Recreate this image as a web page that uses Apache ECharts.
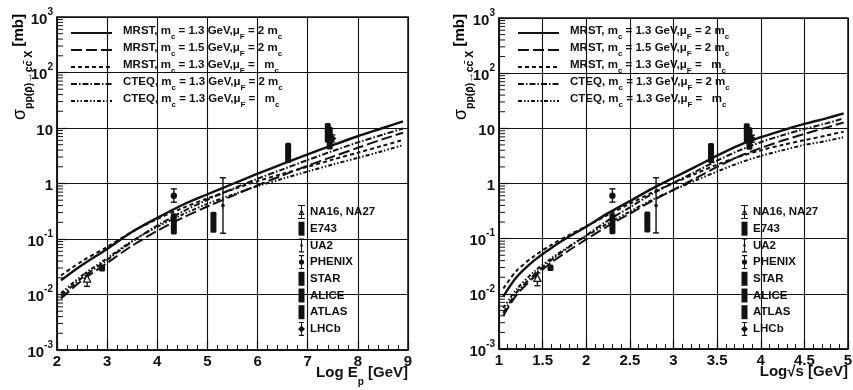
<!DOCTYPE html>
<html><head><meta charset="utf-8">
<script src="https://cdn.jsdelivr.net/npm/echarts@6/dist/echarts.min.js"></script>
<style>html,body{margin:0;padding:0;background:#fff}#c{width:853px;height:390px}</style>
</head><body><div id="c"></div>
<script>
// ---------------- data ----------------
const xTicksLeft = [2, 3, 4, 5, 6, 7, 8, 9];
const xTicksRight = [1, 1.5, 2, 2.5, 3, 3.5, 4, 4.5, 5];
const yRange = [0.001, 1000];
const yMinor = [0.002,0.003,0.004,0.005,0.006,0.007,0.008,0.009,
  0.02,0.03,0.04,0.05,0.06,0.07,0.08,0.09,
  0.2,0.3,0.4,0.5,0.6,0.7,0.8,0.9,
  2,3,4,5,6,7,8,9,
  20,30,40,50,60,70,80,90,
  200,300,400,500,600,700,800,900];

const curveNames = ['MRST13_2mc', 'MRST15_2mc', 'MRST13_mc', 'CTEQ13_2mc', 'CTEQ13_mc'];

// left panel: Log E_p
const logE = [2.08, 2.5, 3, 3.5, 4, 4.5, 5, 5.5, 6, 6.5, 7, 7.5, 8, 8.5, 8.9];
const L_mrst13_2mc = [0.018, 0.034, 0.066, 0.135, 0.24, 0.41, 0.64, 0.98, 1.5, 2.25, 3.35, 4.9, 7.1, 10.0, 13.2];
const L_mrst15_2mc = [0.0085, 0.018, 0.037, 0.076, 0.14, 0.24, 0.385, 0.6, 0.93, 1.4, 2.1, 3.05, 4.4, 6.3, 8.2];
const L_mrst13_mc  = [0.022, 0.040, 0.072, 0.135, 0.23, 0.36, 0.54, 0.78, 1.1, 1.5, 2.0, 2.7, 3.6, 4.8, 6.1];
const L_cteq_2mc   = [0.0095, 0.020, 0.042, 0.09, 0.175, 0.31, 0.51, 0.8, 1.22, 1.8, 2.65, 3.85, 5.5, 7.6, 9.8];
const L_cteq_mc    = [0.0105, 0.022, 0.045, 0.092, 0.165, 0.275, 0.43, 0.63, 0.9, 1.22, 1.65, 2.2, 2.9, 3.85, 4.9];

// right panel: Log sqrt(s)
const logS = [1.05, 1.2, 1.4, 1.6, 1.8, 2.0, 2.25, 2.5, 2.75, 3.0, 3.25, 3.5, 3.75, 4.0, 4.25, 4.5, 4.75, 4.95];
const R_mrst13_2mc = [0.0090, 0.020, 0.040, 0.068, 0.108, 0.165, 0.29, 0.48, 0.80, 1.27, 2.0, 3.2, 4.9, 6.9, 9.2, 12.0, 15.2, 18.6];
const R_mrst15_2mc = [0.0040, 0.0095, 0.020, 0.037, 0.061, 0.097, 0.17, 0.285, 0.48, 0.77, 1.24, 2.0, 3.1, 4.4, 6.0, 7.9, 10.3, 12.8];
const R_mrst13_mc  = [0.0125, 0.026, 0.048, 0.077, 0.116, 0.168, 0.27, 0.43, 0.68, 1.02, 1.5, 2.2, 3.05, 4.0, 5.0, 6.1, 7.4, 8.7];
const R_cteq_2mc   = [0.0045, 0.0105, 0.022, 0.041, 0.070, 0.115, 0.215, 0.37, 0.64, 1.03, 1.63, 2.6, 3.95, 5.6, 7.5, 9.7, 12.3, 15.1];
const R_cteq_mc    = [0.0055, 0.012, 0.025, 0.044, 0.072, 0.112, 0.19, 0.31, 0.5, 0.76, 1.13, 1.65, 2.35, 3.15, 4.0, 5.0, 5.9, 6.9];

// experiments: x (left: Log E_p, right: Log sqrt s), value, low, high
const expNames = ['NA16, NA27', 'E743', 'UA2', 'PHENIX', 'STAR', 'ALICE', 'ATLAS', 'LHCb'];
const expKind  = ['tri', 'box', 'bar', 'dot', 'box', 'box', 'box', 'star'];
const expXLeft  = [[2.6], [2.9], [5.31], [4.33], [4.33, 5.12], [6.61, 7.40], [7.44], [7.49]];
const expXRight = [[1.44], [1.59], [2.80], [2.30], [2.30, 2.70], [3.43, 3.84], [3.87], [3.90]];
const expVal  = [[0.019], [0.030], [0.40], [0.60], [0.19, 0.20], [3.5, 8.5], [7.0], [6.5]];
const expLow  = [[0.014], [0.026], [0.127], [0.46], [0.12, 0.13], [2.35, 5.4], [4.1], [5.6]];
const expHigh = [[0.024], [0.034], [1.27], [0.80], [0.29, 0.31], [5.4, 12.3], [10.5], [7.5]];

const legendCurveText = [
  ['MRST, m', 'c', ' = 1.3 GeV,\u03bc', 'F', ' = 2 m', 'c'],
  ['MRST, m', 'c', ' = 1.5 GeV,\u03bc', 'F', ' = 2 m', 'c'],
  ['MRST, m', 'c', ' = 1.3 GeV,\u03bc', 'F', ' =   m', 'c'],
  ['CTEQ, m', 'c', ' = 1.3 GeV,\u03bc', 'F', ' = 2 m', 'c'],
  ['CTEQ, m', 'c', ' = 1.3 GeV,\u03bc', 'F', ' =   m', 'c']
];

// ---------------- chart ----------------
const FONT = '"Liberation Sans", Arial, Helvetica, sans-serif';
const INK = '#111';
const chart = echarts.init(document.getElementById('c'));

const curveStyles = [
  {type: 'solid', width: 2.4},
  {type: [11, 4], width: 2},
  {type: [4, 3], width: 2},
  {type: [6, 2, 1.5, 2], width: 2},
  {type: [4, 2, 1.5, 2, 1.5, 2], width: 2}
];
const leftCurves = [L_mrst13_2mc, L_mrst15_2mc, L_mrst13_mc, L_cteq_2mc, L_cteq_mc];
const rightCurves = [R_mrst13_2mc, R_mrst15_2mc, R_mrst13_mc, R_cteq_2mc, R_cteq_mc];

function pairs(xs, ys) { return xs.map((x, i) => [x, ys[i]]); }

function yLabel(v) {
  const e = Math.round(Math.log10(v));
  if (e === 0) return '{b|1}';
  if (e === 1) return '{b|10}';
  return '{b|10}{p|' + e + '}';
}

function xAxisCfg(gi, ticks, nameRich) {
  return {
    type: 'value', gridIndex: gi, min: ticks[0], max: ticks[ticks.length - 1],
    interval: ticks[1] - ticks[0],
    axisLine: {show: true, onZero: false, lineStyle: {color: INK, width: 1.5}},
    axisTick: {show: true, inside: true, length: 9, lineStyle: {color: INK, width: 1.2}},
    minorTick: {show: true, splitNumber: 5, length: 5, lineStyle: {color: INK, width: 1}},
    splitLine: {show: true, lineStyle: {color: INK, width: 1.1}},
    axisLabel: {color: INK, fontSize: 15, fontWeight: 'bold', fontFamily: FONT, margin: 4, showMinLabel: true, showMaxLabel: true},
    name: nameRich, nameLocation: 'end', nameGap: 0, nameMoveOverlap: false,
    nameTextStyle: {
      align: 'right', verticalAlign: 'top', padding: [15, 0, 0, 0],
      rich: {
        t: {fontSize: 15, fontWeight: 'bold', fontFamily: FONT, color: INK, verticalAlign: 'top', lineHeight: 22},
        s: {fontSize: 10, fontWeight: 'bold', fontFamily: FONT, color: INK, verticalAlign: 'bottom', lineHeight: 22}
      }
    }
  };
}
function yAxisCfg(gi) {
  return {
    type: 'log', gridIndex: gi, logBase: 10, min: yRange[0], max: yRange[1], splitNumber: 6,
    axisLine: {show: true, lineStyle: {color: INK, width: 1.5}},
    axisTick: {show: true, inside: true, length: 10, lineStyle: {color: INK, width: 1.2}},
    minorTick: {show: false},
    splitLine: {show: true, lineStyle: {color: INK, width: 1.1}},
    axisLabel: {
      formatter: yLabel, margin: 4,
      rich: {
        b: {fontSize: 15, fontWeight: 'bold', fontFamily: FONT, color: INK, verticalAlign: 'bottom', lineHeight: 20},
        p: {fontSize: 10, fontWeight: 'bold', fontFamily: FONT, color: INK, verticalAlign: 'top', lineHeight: 20}
      }
    }
  };
}

function minorTickRender(params, api) {
  const p = api.coord([api.value(0), api.value(1)]);
  return {type: 'line', shape: {x1: p[0], y1: p[1], x2: p[0] + 6, y2: p[1]}, style: {stroke: INK, lineWidth: 1}};
}

function expRender(kind) {
  return function (params, api) {
    const x = api.value(0), v = api.value(1), lo = api.value(2), hi = api.value(3);
    const pv = api.coord([x, v]), pl = api.coord([x, lo]), ph = api.coord([x, hi]);
    const cx = pv[0];
    const st = {stroke: INK, lineWidth: 1.4};
    const ch = [];
    if (kind === 'box') {
      ch.push({type: 'rect', shape: {x: cx - 3, y: ph[1], width: 6, height: Math.max(3, pl[1] - ph[1]), r: 1.5}, style: {fill: INK}});
    } else {
      ch.push({type: 'line', shape: {x1: cx, y1: ph[1], x2: cx, y2: pl[1]}, style: st});
      ch.push({type: 'line', shape: {x1: cx - 3, y1: ph[1], x2: cx + 3, y2: ph[1]}, style: st});
      ch.push({type: 'line', shape: {x1: cx - 3, y1: pl[1], x2: cx + 3, y2: pl[1]}, style: st});
      if (kind === 'tri') {
        ch.push({type: 'polygon', shape: {points: [[cx, pv[1] - 4], [cx + 3.5, pv[1] + 3], [cx - 3.5, pv[1] + 3]]}, style: {fill: '#fff', stroke: INK, lineWidth: 1.3}});
      } else if (kind === 'dot') {
        ch.push({type: 'circle', shape: {cx: cx, cy: pv[1], r: 3.2}, style: {fill: INK}});
      } else if (kind === 'star') {
        ch.push({type: 'polygon', shape: {points: [[cx, pv[1] - 4], [cx + 4, pv[1]], [cx, pv[1] + 4], [cx - 4, pv[1]]]}, style: {fill: INK}});
      } else {
        ch.push({type: 'circle', shape: {cx: cx, cy: pv[1], r: 1.8}, style: {fill: INK}});
      }
    }
    return {type: 'group', children: ch};
  };
}

const iconPaths = {
  tri: 'path://M0,0H8V1.2H0Z M3.4,0H4.6V16H3.4Z M0,14.8H8V16H0Z M4,4.5L7.5,11.5H0.5Z M4,7L2.4,10.3H5.6Z',
  box: 'path://M1,1H7V15H1Z',
  bar: 'path://M1,0H7V1.2H1Z M3.4,0H4.6V16H3.4Z M1,14.8H7V16H1Z M4,6.5A1.5,1.5 0 1,1 4,9.5A1.5,1.5 0 1,1 4,6.5Z',
  dot: 'path://M1,0H7V1.2H1Z M3.4,0H4.6V16H3.4Z M1,14.8H7V16H1Z M4,5A3,3 0 1,1 4,11A3,3 0 1,1 4,5Z',
  star: 'path://M1,0H7V1.2H1Z M3.4,0H4.6V16H3.4Z M1,14.8H7V16H1Z M4,4L8,8L4,12L0,8Z'
};

const series = [];
[0, 1].forEach(gi => {
  const xs = gi === 0 ? logE : logS;
  const curves = gi === 0 ? leftCurves : rightCurves;
  curves.forEach((ys, k) => {
    series.push({
      type: 'line', name: curveNames[k], xAxisIndex: gi, yAxisIndex: gi,
      data: pairs(xs, ys), smooth: 0.3, symbol: 'none', showSymbol: false,
      lineStyle: {color: INK, width: curveStyles[k].width, type: curveStyles[k].type},
      itemStyle: {color: INK}, z: 3, silent: true
    });
  });
  const xmin = gi === 0 ? xTicksLeft[0] : xTicksRight[0];
  series.push({
    type: 'custom', name: 'minorY' + gi, xAxisIndex: gi, yAxisIndex: gi,
    data: yMinor.map(v => [xmin, v]), renderItem: minorTickRender, silent: true, z: 4
  });
  expNames.forEach((nm, k) => {
    const ex = gi === 0 ? expXLeft[k] : expXRight[k];
    series.push({
      type: 'custom', name: nm, xAxisIndex: gi, yAxisIndex: gi,
      data: ex.map((x, j) => [x, expVal[k][j], expLow[k][j], expHigh[k][j]]),
      encode: {x: 0, y: [1, 2, 3]},
      renderItem: expRender(expKind[k]), itemStyle: {color: INK}, z: 5, silent: true
    });
  });
});

const legendRich = {
  t: {fontSize: 11.5, fontWeight: 'bold', fontFamily: FONT, color: INK, verticalAlign: 'top', lineHeight: 16},
  s: {fontSize: 8, fontWeight: 'bold', fontFamily: FONT, color: INK, verticalAlign: 'bottom', lineHeight: 16}
};
function curveLegendFmt(name) {
  const k = curveNames.indexOf(name);
  const p = legendCurveText[k];
  return '{t|' + p[0] + '}{s|' + p[1] + '}{t|' + p[2] + '}{s|' + p[3] + '}{t|' + p[4] + '}{s|' + p[5] + '}';
}
function curveLegend(left) {
  return {
    show: true, orient: 'vertical', left: left, top: 25, itemWidth: 41, itemHeight: 12, itemGap: 1,
    padding: 0, selectedMode: false, data: curveNames, formatter: curveLegendFmt,
    itemStyle: {opacity: 0}, lineStyle: {width: 2},
    textStyle: {rich: legendRich, padding: [0, 0, 0, 6]}
  };
}
function expLegend(left) {
  return {
    show: true, orient: 'vertical', left: left, top: 205, itemWidth: 7, itemHeight: 14, itemGap: 2.7,
    padding: 0, selectedMode: false,
    data: expNames.map((n, k) => ({name: n, icon: iconPaths[expKind[k]]})),
    textStyle: {fontSize: 11.5, fontWeight: 'bold', fontFamily: FONT, color: INK, lineHeight: 14}
  };
}

const titleRich = {
  g: {fontSize: 18, fontFamily: FONT, color: INK, verticalAlign: 'top', lineHeight: 24},
  b: {fontSize: 15, fontWeight: 'bold', fontFamily: FONT, color: INK, verticalAlign: 'top', lineHeight: 24},
  s: {fontSize: 10.5, fontWeight: 'bold', fontFamily: FONT, color: INK, verticalAlign: 'bottom', lineHeight: 24}
};
const yTitle = '{g|\u03c3}{s|pp(p\u0304)\u2192cc\u0304 X}{b| [mb]}';

chart.setOption({
  animation: false,
  backgroundColor: '#fff',
  grid: [
    {left: 57, top: 17, width: 351, height: 333, show: true, borderColor: INK, borderWidth: 1.5, backgroundColor: 'transparent', outerBoundsMode: 'none'},
    {left: 499, top: 18, width: 349, height: 331, show: true, borderColor: INK, borderWidth: 1.5, backgroundColor: 'transparent', outerBoundsMode: 'none'}
  ],
  xAxis: [
    xAxisCfg(0, xTicksLeft, '{t|Log E}{s|p}{t| [GeV]}'),
    xAxisCfg(1, xTicksRight, '{t|Log\u221as [GeV]}')
  ],
  yAxis: [yAxisCfg(0), yAxisCfg(1)],
  legend: [curveLegend(70), curveLegend(517), expLegend(298), expLegend(741)],
  graphic: [
    {type: 'text', x: 23, y: 14, rotation: Math.PI / 2, style: {text: yTitle, rich: titleRich, align: 'right', verticalAlign: 'middle'}},
    {type: 'text', x: 464, y: 14, rotation: Math.PI / 2, style: {text: yTitle, rich: titleRich, align: 'right', verticalAlign: 'middle'}}
  ],
  series: series
});
</script>
</body></html>
